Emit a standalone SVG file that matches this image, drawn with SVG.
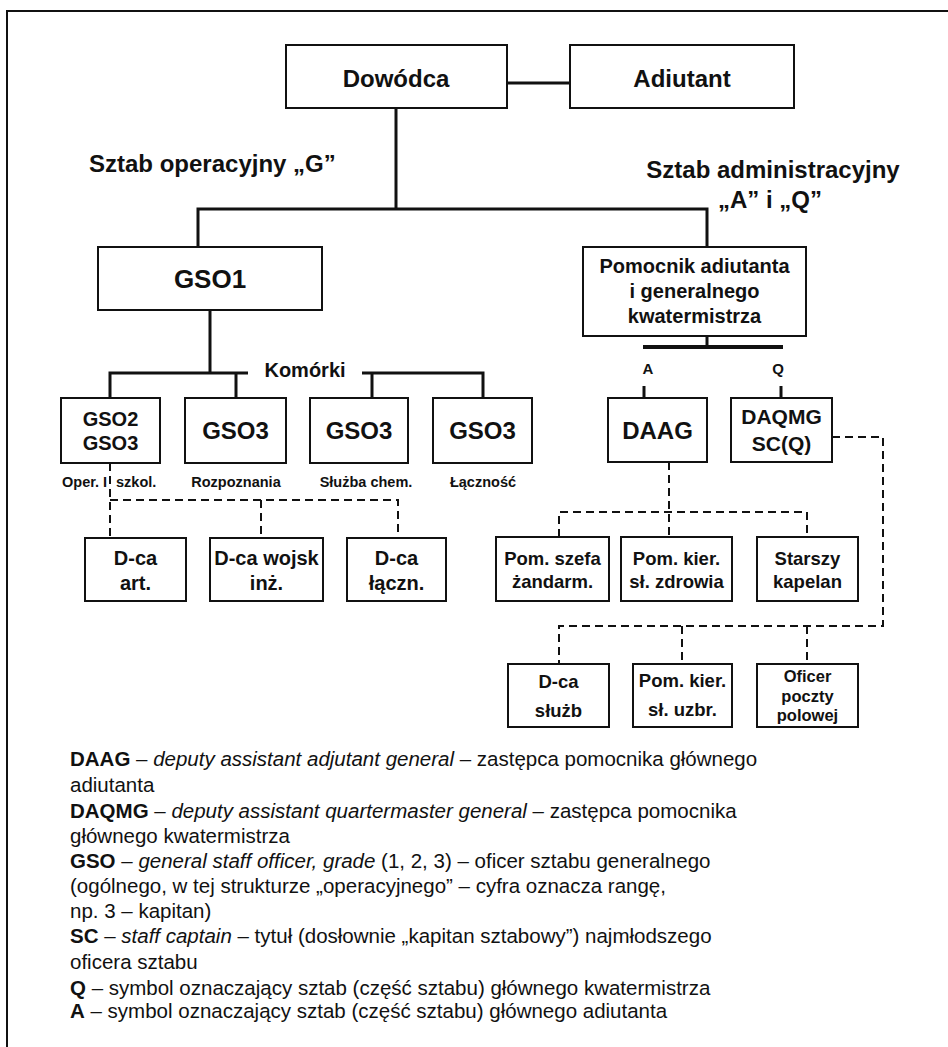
<svg xmlns="http://www.w3.org/2000/svg" width="948" height="1047" viewBox="0 0 948 1047">
<style>
text{font-family:"Liberation Sans",Arial,sans-serif;fill:#111;}
.b{font-weight:bold;}
.c{text-anchor:middle;}
.box{fill:#fff;stroke:#111;stroke-width:2;}
.sol{fill:none;stroke:#111;stroke-width:3;}
.dash{fill:none;stroke:#111;stroke-width:2;stroke-dasharray:8 5;}
.leg{font-size:20.5px;}
</style>
<rect width="948" height="1047" fill="#fff"/>
<g id="frame">
<path d="M7,1047 V11 H948" fill="none" stroke="#111" stroke-width="2"/>
</g>
<g id="connectors">
<path class="sol" d="M507,83 H570"/>
<path class="sol" d="M396,108 V209"/>
<path class="sol" d="M198,247 V209 H707 V247"/>
<path class="sol" d="M210,310 V373"/>
<path class="sol" d="M110,398 V373 H248"/>
<path class="sol" d="M236,373 V398"/>
<path class="sol" d="M362,373 H483 V398"/>
<path class="sol" d="M372,373 V398"/>
<path class="sol" d="M707,336 V347"/>
<path fill="none" stroke="#111" stroke-width="4" d="M643,347 H783"/>
<path class="sol" d="M644,386 V398"/>
<path class="sol" d="M781,386 V398"/>
<path class="dash" d="M110,463 V538"/>
<path class="dash" d="M110,500 H398 V538"/>
<path class="dash" d="M261,500 V538"/>
<path class="dash" d="M669,462 V537"/>
<path class="dash" d="M559,537 V512 H807 V537"/>
<path class="dash" d="M832,437 H883 V626 H559 V664"/>
<path class="dash" d="M682,626 V664"/>
<path class="dash" d="M807,626 V664"/>
</g>
<g id="labels">
<text class="b" x="89" y="172" font-size="24">Sztab operacyjny „G”</text>
<text class="b c" x="773" y="178" font-size="24">Sztab administracyjny</text>
<text class="b c" x="770" y="208" font-size="24">„A” i „Q”</text>
<text class="b c" x="305" y="377" font-size="20">Komórki</text>
<text class="b c" x="648" y="374" font-size="15">A</text>
<text class="b c" x="778" y="374" font-size="15">Q</text>
<text class="b" x="62" y="487" font-size="14.5">Oper. I</text>
<text class="b" x="116" y="487" font-size="14.5">szkol.</text>
<text class="b c" x="236" y="487" font-size="14.5">Rozpoznania</text>
<text class="b c" x="366" y="487" font-size="14.5">Służba chem.</text>
<text class="b c" x="483" y="487" font-size="14.5">Łączność</text>
</g>
<g id="dowodca"><rect class="box" x="286" y="45" width="221" height="63"/><text class="b c" x="396" y="87" font-size="24">Dowódca</text></g>
<g id="adiutant"><rect class="box" x="570" y="45" width="224" height="63"/><text class="b c" x="682" y="87" font-size="24">Adiutant</text></g>
<g id="gso1"><rect class="box" x="98" y="247" width="224" height="63"/><text class="b c" x="210" y="288" font-size="26">GSO1</text></g>
<g id="pomocnik"><rect class="box" x="583" y="247" width="223" height="89"/><text class="b c" x="694.5" y="273" font-size="20">Pomocnik adiutanta</text><text class="b c" x="694.5" y="298" font-size="20">i generalnego</text><text class="b c" x="694.5" y="323" font-size="20">kwatermistrza</text></g>
<g id="gso2"><rect class="box" x="61" y="398" width="99" height="65"/><text class="b c" x="110.5" y="426" font-size="20">GSO2</text><text class="b c" x="110.5" y="450" font-size="20">GSO3</text></g>
<g id="gso3a"><rect class="box" x="185" y="398" width="101" height="65"/><text class="b c" x="235.5" y="439" font-size="24">GSO3</text></g>
<g id="gso3b"><rect class="box" x="310" y="398" width="98" height="65"/><text class="b c" x="359" y="439" font-size="24">GSO3</text></g>
<g id="gso3c"><rect class="box" x="433" y="398" width="99" height="65"/><text class="b c" x="482.5" y="439" font-size="24">GSO3</text></g>
<g id="daag"><rect class="box" x="608" y="398" width="99" height="64"/><text class="b c" x="657.5" y="439" font-size="24">DAAG</text></g>
<g id="daqmg"><rect class="box" x="731" y="398" width="101" height="64"/><text class="b c" x="781.5" y="424" font-size="21">DAQMG</text><text class="b c" x="781.5" y="451" font-size="21">SC(Q)</text></g>
<g id="dca-art"><rect class="box" x="85" y="538" width="101" height="63"/><text class="b c" x="135.5" y="565" font-size="20">D-ca</text><text class="b c" x="135.5" y="590" font-size="20">art.</text></g>
<g id="dca-wojsk"><rect class="box" x="210" y="538" width="113" height="63"/><text class="b c" x="266.5" y="565" font-size="20">D-ca wojsk</text><text class="b c" x="266.5" y="590" font-size="20">inż.</text></g>
<g id="dca-laczn"><rect class="box" x="347" y="538" width="99" height="63"/><text class="b c" x="396.5" y="565" font-size="20">D-ca</text><text class="b c" x="396.5" y="590" font-size="20">łączn.</text></g>
<g id="pom-szefa"><rect class="box" x="496" y="537" width="113" height="64"/><text class="b c" x="552.5" y="565" font-size="18.5">Pom. szefa</text><text class="b c" x="552.5" y="588" font-size="18.5">żandarm.</text></g>
<g id="pom-kier-zdr"><rect class="box" x="621" y="537" width="111" height="64"/><text class="b c" x="676.5" y="565" font-size="18.5">Pom. kier.</text><text class="b c" x="676.5" y="588" font-size="18.5">sł. zdrowia</text></g>
<g id="kapelan"><rect class="box" x="757" y="537" width="101" height="64"/><text class="b c" x="807.5" y="565" font-size="18.5">Starszy</text><text class="b c" x="807.5" y="588" font-size="18.5">kapelan</text></g>
<g id="dca-sluzb"><rect class="box" x="508" y="664" width="101" height="63"/><text class="b c" x="558.5" y="688" font-size="18.5">D-ca</text><text class="b c" x="558.5" y="717" font-size="18.5">służb</text></g>
<g id="pom-kier-uzbr"><rect class="box" x="633" y="664" width="99" height="63"/><text class="b c" x="682.5" y="687" font-size="18.5">Pom. kier.</text><text class="b c" x="682.5" y="716" font-size="18.5">sł. uzbr.</text></g>
<g id="oficer"><rect class="box" x="757" y="664" width="101" height="63"/><text class="b c" x="807.5" y="682" font-size="16.5">Oficer</text><text class="b c" x="807.5" y="702" font-size="16.5">poczty</text><text class="b c" x="807.5" y="721" font-size="16.5">polowej</text></g>
<g id="legend" class="leg">
<text class="leg" x="70" y="766"><tspan class="b">DAAG</tspan> – <tspan font-style="italic">deputy assistant adjutant general</tspan> – zastępca pomocnika głównego</text>
<text class="leg" x="70" y="792">adiutanta</text>
<text class="leg" x="70" y="818"><tspan class="b">DAQMG</tspan> – <tspan font-style="italic">deputy assistant quartermaster general</tspan> – zastępca pomocnika</text>
<text class="leg" x="70" y="843">głównego kwatermistrza</text>
<text class="leg" x="70" y="868"><tspan class="b">GSO</tspan> – <tspan font-style="italic">general staff officer, grade</tspan> (1, 2, 3) – oficer sztabu generalnego</text>
<text class="leg" x="70" y="893">(ogólnego, w tej strukturze „operacyjnego” – cyfra oznacza rangę,</text>
<text class="leg" x="70" y="918">np. 3 – kapitan)</text>
<text class="leg" x="70" y="943"><tspan class="b">SC</tspan> – <tspan font-style="italic">staff captain</tspan> – tytuł (dosłownie „kapitan sztabowy”) najmłodszego</text>
<text class="leg" x="70" y="969">oficera sztabu</text>
<text class="leg" x="70" y="995"><tspan class="b">Q</tspan> – symbol oznaczający sztab (część sztabu) głównego kwatermistrza</text>
<text class="leg" x="70" y="1018"><tspan class="b">A</tspan> – symbol oznaczający sztab (część sztabu) głównego adiutanta</text>
</g>
</svg>
